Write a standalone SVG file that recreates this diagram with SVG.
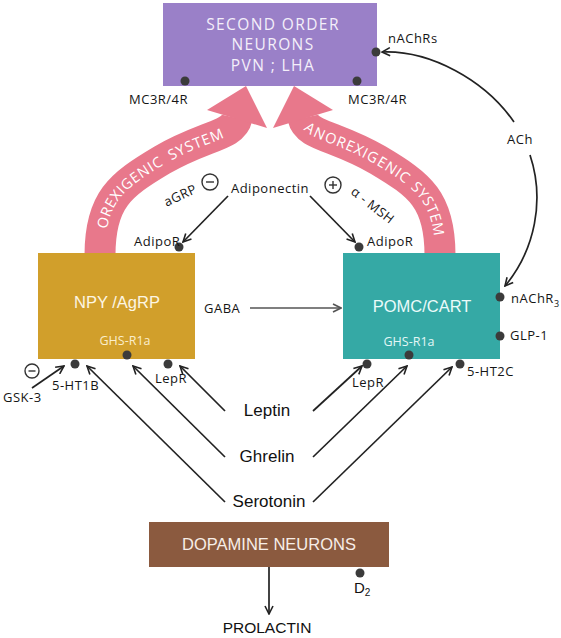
<svg xmlns="http://www.w3.org/2000/svg" width="561" height="638" viewBox="0 0 561 638">
<defs>
<style>
.lbl{font-family:"Open Sans","Noto Sans",sans-serif;font-size:13px;fill:#151515;letter-spacing:0.5px}
.big{font-family:"Liberation Sans",Arial,sans-serif;font-size:17px;fill:#111;text-anchor:middle}
.ln{fill:none;stroke:#222;stroke-width:1.7}
.dot{fill:#3b3b3b}
.sys{font-family:"Open Sans","Noto Sans",sans-serif;font-size:14.5px;fill:#fff;letter-spacing:1.1px}
.body{fill:none;stroke:#e8788b;stroke-width:31}
.head{fill:#e8788b}
.circ{fill:none;stroke:#333;stroke-width:1.4}
</style>
<marker id="arr" viewBox="0 0 10 10" refX="9" refY="5" markerWidth="10" markerHeight="10" orient="auto-start-reverse" markerUnits="userSpaceOnUse">
<path d="M1,1 L9,5 L1,9" fill="none" stroke="#222" stroke-width="1.6"/>
</marker>
<marker id="arrg" viewBox="0 0 10 10" refX="9" refY="5" markerWidth="10" markerHeight="10" orient="auto" markerUnits="userSpaceOnUse">
<path d="M1,1 L9,5 L1,9" fill="none" stroke="#555" stroke-width="1.6"/>
</marker>
<path id="pl" d="M 100 255 C 100 200, 120 185, 162 160 C 205 135, 233 136, 237 118"/>
<path id="pr" d="M 303 118 C 307 136, 335 135, 378 160 C 420 185, 440 200, 440 255"/>
</defs>
<rect width="561" height="638" fill="#fff"/>

<g id="systems">
<use href="#pl" class="body"/>
<polygon class="head" points="246,86 267,128 207,110"/>
<use href="#pr" class="body"/>
<polygon class="head" points="294,86 273,128 333,110"/>
<text class="sys" dy="5"><textPath href="#pl" startOffset="27">OREXIGENIC</textPath></text>
<text class="sys" dy="5"><textPath href="#pl" startOffset="129">SYSTEM</textPath></text>
<text class="sys" dy="5" letter-spacing="0.6"><textPath href="#pr" startOffset="8">ANOREXIGENIC</textPath></text>
<text class="sys" dy="5" letter-spacing="0.6"><textPath href="#pr" startOffset="131">SYSTEM</textPath></text>
</g>

<g id="second-order">
<rect x="163" y="3" width="214" height="83" fill="#9a80c8"/>
<g font-family="Open Sans, Noto Sans, sans-serif" font-size="15.5" fill="#f4effa" text-anchor="middle" letter-spacing="1.4">
<text x="273" y="30">SECOND ORDER</text>
<text x="273" y="50">NEURONS</text>
<text x="273" y="71">PVN ; LHA</text>
</g>
<circle class="dot" cx="185" cy="81" r="4.5"/>
<circle class="dot" cx="357" cy="81" r="4.5"/>
<circle class="dot" cx="376" cy="52" r="4.5"/>
<text class="lbl" x="129" y="104" letter-spacing="1">MC3R/4R</text>
<text class="lbl" x="348" y="104" letter-spacing="1">MC3R/4R</text>
<text class="lbl" x="388" y="43" letter-spacing="1.2">nAChRs</text>
</g>

<g id="npy">
<rect x="38" y="253" width="157" height="106" fill="#d19f2b"/>
<text x="117" y="308" font-family="Liberation Sans, Arial, sans-serif" font-size="16.5" fill="#fdf6e3" text-anchor="middle">NPY /AgRP</text>
<text x="125" y="345" font-family="Open Sans, Noto Sans, sans-serif" font-size="12.5" fill="#fbeecb" text-anchor="middle">GHS-R1a</text>
<circle class="dot" cx="127" cy="355" r="4.5"/>
<circle class="dot" cx="75" cy="364" r="4.5"/>
<circle class="dot" cx="168" cy="364" r="4.5"/>
<circle class="dot" cx="179" cy="247" r="4.5"/>
<text class="lbl" x="134" y="246">AdipoR</text>
<text class="lbl" x="52" y="390">5-HT1B</text>
<text class="lbl" x="155" y="383">LepR</text>
<text class="lbl" x="3" y="402">GSK-3</text>
<circle class="circ" cx="32" cy="371" r="7"/>
<line x1="28.5" y1="371" x2="35.5" y2="371" stroke="#333" stroke-width="1.4"/>
</g>

<g id="pomc">
<rect x="343" y="253" width="157" height="106" fill="#35a9a5"/>
<text x="422" y="312" font-family="Liberation Sans, Arial, sans-serif" font-size="16.5" fill="#ebfbfa" text-anchor="middle">POMC/CART</text>
<text x="409" y="346" font-family="Open Sans, Noto Sans, sans-serif" font-size="12.5" fill="#e3f7f6" text-anchor="middle">GHS-R1a</text>
<circle class="dot" cx="409" cy="355" r="4.5"/>
<circle class="dot" cx="367" cy="364" r="4.5"/>
<circle class="dot" cx="460" cy="364" r="4.5"/>
<circle class="dot" cx="500" cy="297" r="4.5"/>
<circle class="dot" cx="500" cy="336" r="4.5"/>
<circle class="dot" cx="359" cy="247" r="4.5"/>
<text class="lbl" x="367" y="246">AdipoR</text>
<text class="lbl" x="352" y="387">LepR</text>
<text class="lbl" x="467" y="376">5-HT2C</text>
<text class="lbl" x="510" y="340">GLP-1</text>
<text class="lbl" x="511" y="303">nAChR<tspan font-size="9" dy="4">3</tspan></text>
</g>

<g id="adiponectin">
<text class="lbl" x="270" y="193" text-anchor="middle" font-size="13.5" letter-spacing="0.2">Adiponectin</text>
<text class="lbl" x="180" y="200" text-anchor="middle" transform="rotate(-25 180 195)">aGRP</text>
<circle class="circ" cx="210" cy="182" r="8"/>
<line x1="206" y1="182" x2="214" y2="182" stroke="#333" stroke-width="1.4"/>
<text class="lbl" x="373" y="210" text-anchor="middle" transform="rotate(38 373 205)">α - MSH</text>
<circle class="circ" cx="333" cy="185" r="8"/>
<line x1="329" y1="185" x2="337" y2="185" stroke="#333" stroke-width="1.4"/>
<line x1="333" y1="181" x2="333" y2="189" stroke="#333" stroke-width="1.4"/>
</g>

<g id="signals">
<text class="big" x="267" y="416">Leptin</text>
<text class="big" x="267" y="462">Ghrelin</text>
<text class="big" x="269" y="507">Serotonin</text>
<text class="lbl" x="507" y="144" letter-spacing="1">ACh</text>
<text class="lbl" x="204" y="313" letter-spacing="1.2">GABA</text>
</g>

<g id="dopamine">
<rect x="149" y="522" width="240" height="45" fill="#8b5a3f"/>
<text x="269" y="550" font-family="Liberation Sans, Arial, sans-serif" font-size="16.5" fill="#f7eee8" text-anchor="middle">DOPAMINE NEURONS</text>
<circle class="dot" cx="360" cy="573" r="4.5"/>
<text x="354" y="593" font-family="Liberation Sans, Arial, sans-serif" font-size="15" fill="#111">D<tspan font-size="10" dy="3">2</tspan></text>
</g>

<g id="prolactin">
<text x="267" y="633" font-family="Liberation Sans, Arial, sans-serif" font-size="15.5" fill="#111" text-anchor="middle">PROLACTIN</text>
</g>

<g id="connectors">
<line class="ln" x1="228" y1="196" x2="183" y2="242" marker-end="url(#arr)"/>
<line class="ln" x1="310" y1="196" x2="355" y2="242" marker-end="url(#arr)"/>
<line x1="250" y1="308" x2="341" y2="308" stroke="#555" stroke-width="1.7" marker-end="url(#arrg)"/>
<line class="ln" x1="225" y1="502" x2="87" y2="366" marker-end="url(#arr)"/>
<line class="ln" x1="225" y1="457" x2="133" y2="366" marker-end="url(#arr)"/>
<line class="ln" x1="225" y1="411" x2="180" y2="366" marker-end="url(#arr)"/>
<line class="ln" x1="313" y1="411" x2="362" y2="366" marker-end="url(#arr)"/>
<line class="ln" x1="313" y1="457" x2="407" y2="366" marker-end="url(#arr)"/>
<line class="ln" x1="313" y1="502" x2="452" y2="367" marker-end="url(#arr)"/>
<line class="ln" x1="32" y1="388" x2="64" y2="366" marker-end="url(#arr)"/>
<path class="ln" d="M 382 52 C 430 50, 485 80, 514 122" marker-start="url(#arr)"/>
<path class="ln" d="M 530 155 C 545 200, 535 250, 505 286" marker-end="url(#arr)"/>
<line class="ln" x1="269" y1="567" x2="269" y2="614" stroke="#333" marker-end="url(#arr)"/>
</g>
</svg>
